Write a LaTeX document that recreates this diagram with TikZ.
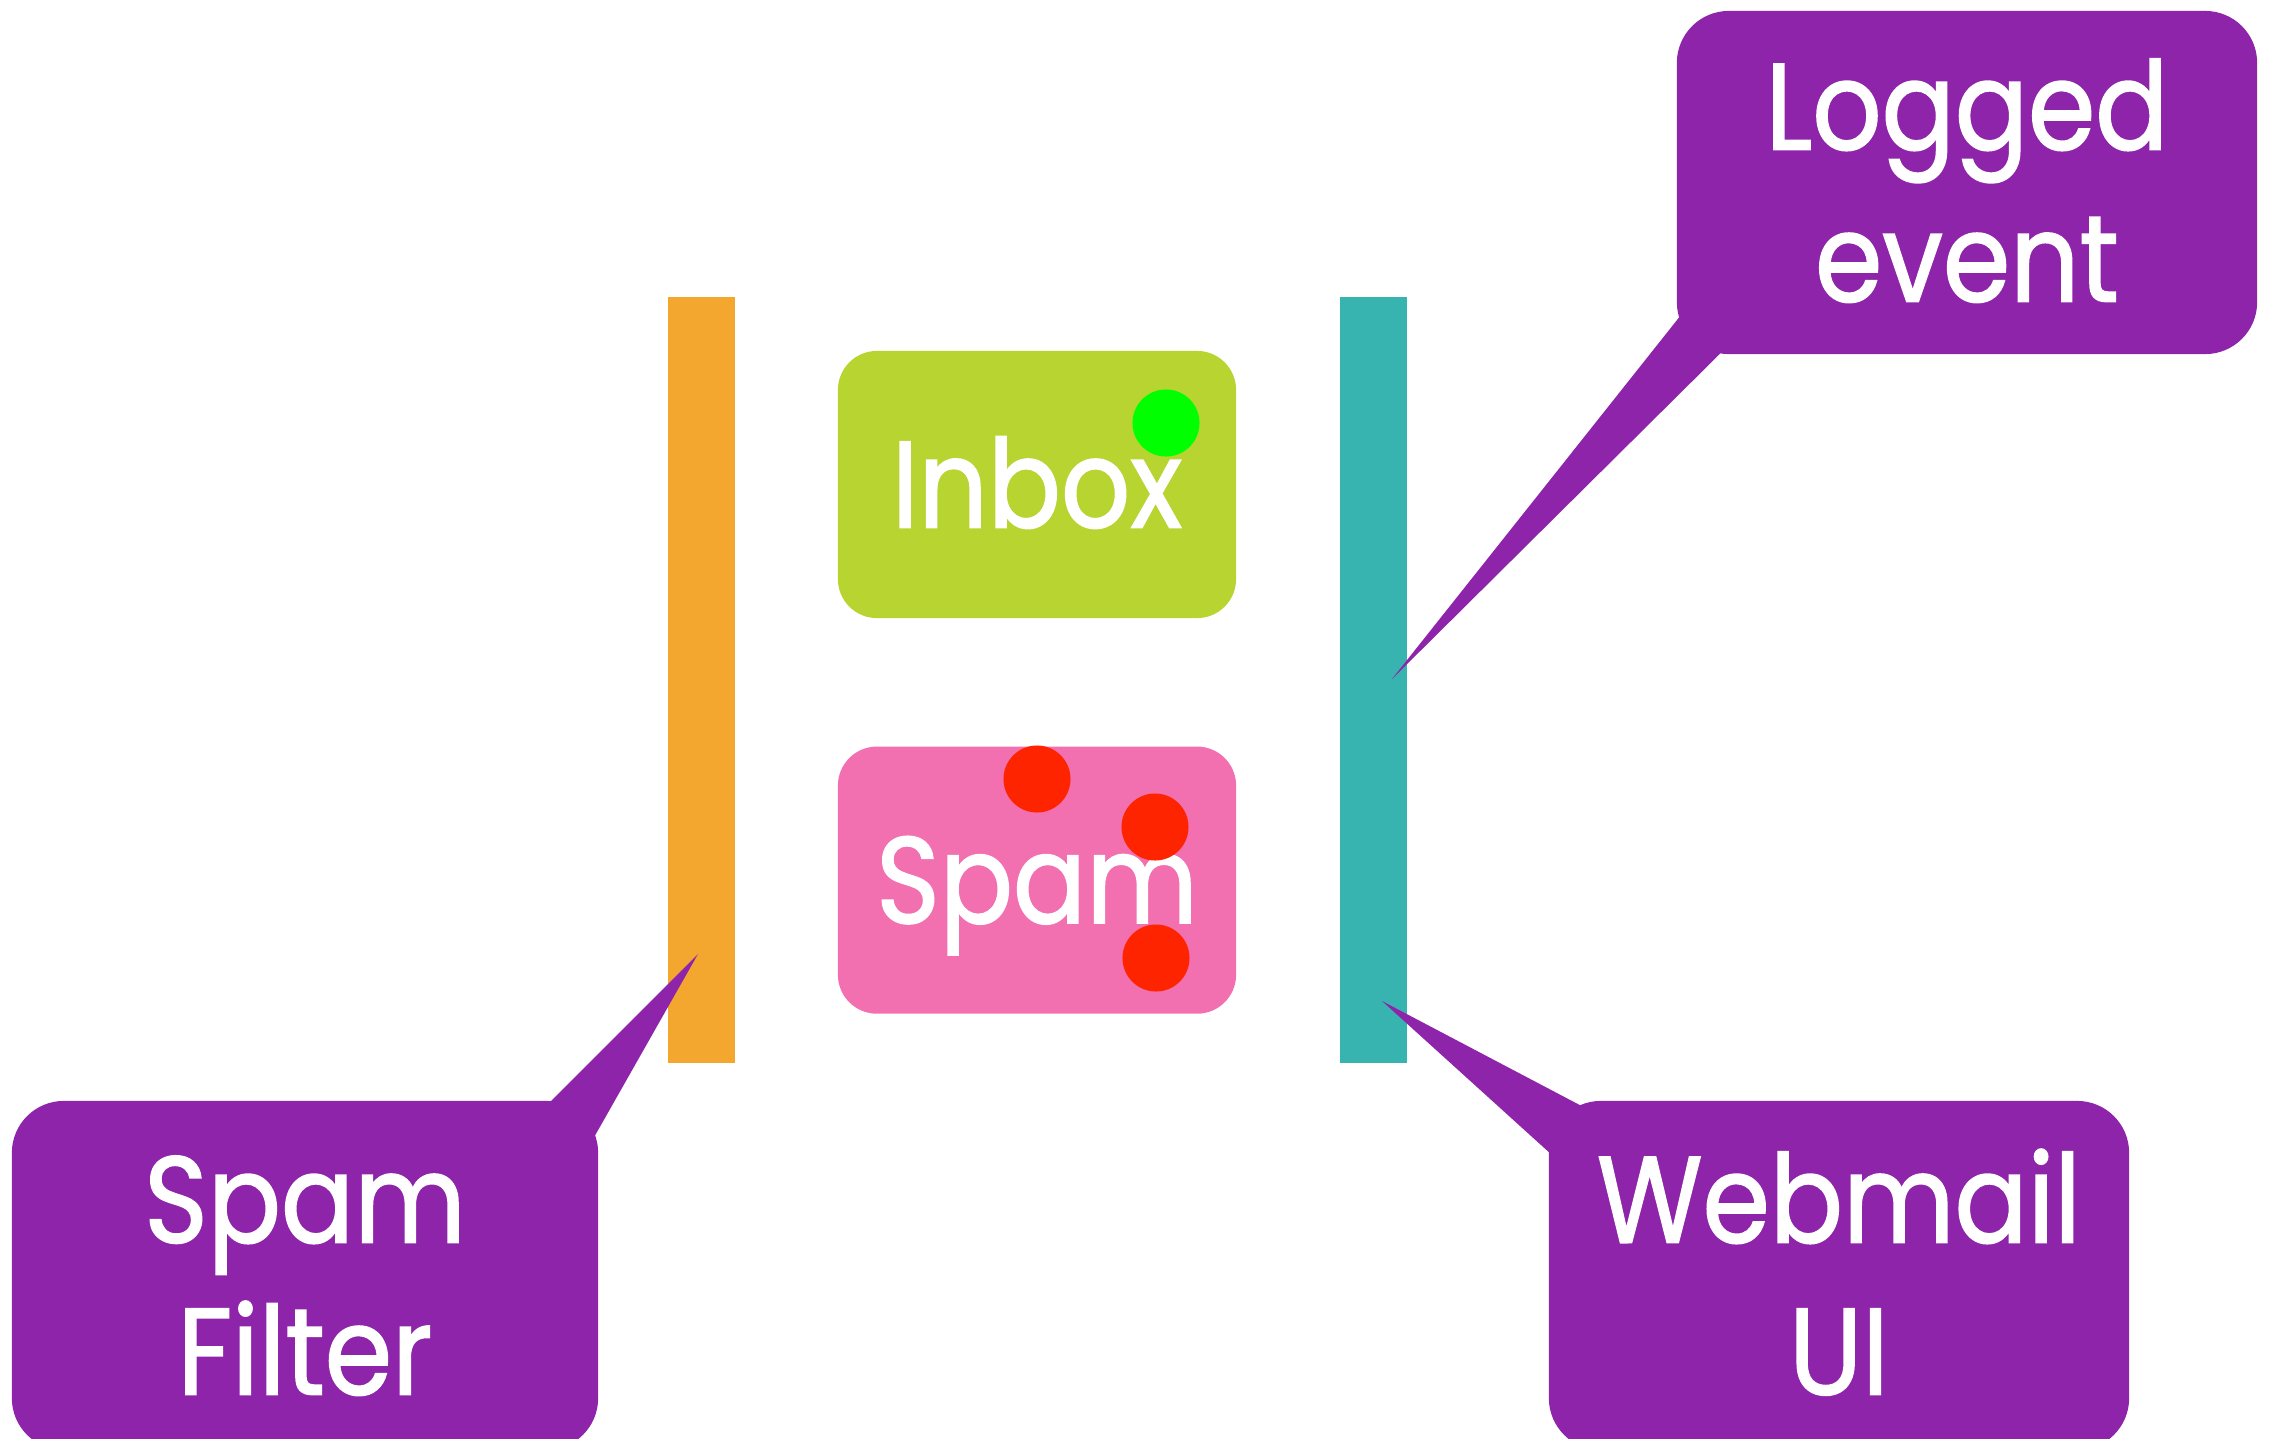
\documentclass[tikz,border=0pt]{standalone}
\usepackage{fontspec}
\setmainfont{Poppins}[FakeStretch=0.88, FakeBold=1.3]
\usetikzlibrary{positioning}
\definecolor{mailPurple}{RGB}{142,36,170}
\definecolor{mailOrange}{RGB}{244,167,46}
\definecolor{mailTeal}{RGB}{56,180,176}
\definecolor{mailLime}{RGB}{183,212,48}
\definecolor{mailPink}{RGB}{243,112,176}
\definecolor{mailGreen}{RGB}{0,255,0}
\definecolor{mailRed}{RGB}{255,36,0}
\newcommand{\bigfont}{\fontsize{35}{43.2}\selectfont}

\begin{document}
\begin{tikzpicture}[
    x=0.01cm, y=-0.01cm,
    bar/.style={inner sep=0pt, minimum width=0.67cm, minimum height=7.66cm},
    folder/.style={rounded corners=0.39cm, inner sep=0pt, minimum width=3.98cm, minimum height=2.67cm, text=white, font=\bigfont, text height=0.86cm, text depth=0pt},
    callout/.style={fill=mailPurple, rounded corners=0.52cm, inner sep=0pt, minimum width=5.8cm, minimum height=3.49cm, align=center, text=white, font=\bigfont, text height=2.38cm, text depth=0pt},
    pointer/.style={fill=mailPurple},
    dot/.style={circle, inner sep=0pt, minimum size=0.67cm}
]
    \clip (0,0) rectangle (2274,1439);
    \useasboundingbox (0,0) rectangle (2274,1439);

    % filter and log bars
    \node[bar, fill=mailOrange] (filterbar) at (701.5,680) {};
    \node[bar, fill=mailTeal] (logbar) at (1373.5,680) {};

    % mail folders
    \node[folder, fill=mailLime] (inbox) at (1037,484.5) {Inbox};
    \node[folder, fill=mailPink, below=1.27cm of inbox] (spam) {Spam};

    \node[dot, fill=mailGreen] (goodmail) at (1166,423) {};
    \node[dot, fill=mailRed] (spamA) at (1037,779) {};
    \node[dot, fill=mailRed] (spamB) at (1155,827) {};
    \node[dot, fill=mailRed] (spamC) at (1156,958) {};

    % callouts
    \node[callout, minimum height=3.43cm] (logged) at (1967,182.5) {Logged\\event};
    \node[callout, minimum width=5.86cm] (filter) at (305,1275.5) {Spam\\Filter};
    \node[callout] (webmail) at (1839,1275.5) {Webmail\\UI};

    \coordinate (loggedtip) at (1392,679);
    \coordinate (filtertip) at (698,954);
    \coordinate (webmailtip) at (1382,1001);

    \fill[pointer] (loggedtip) -- (1708,281) -- (1753,321) -- cycle;
    \fill[pointer] (filtertip) -- (529,1123) -- (580,1162) -- cycle;
    \fill[pointer] (webmailtip) -- (1612,1122) -- (1573,1174) -- cycle;
\end{tikzpicture}
\end{document}
